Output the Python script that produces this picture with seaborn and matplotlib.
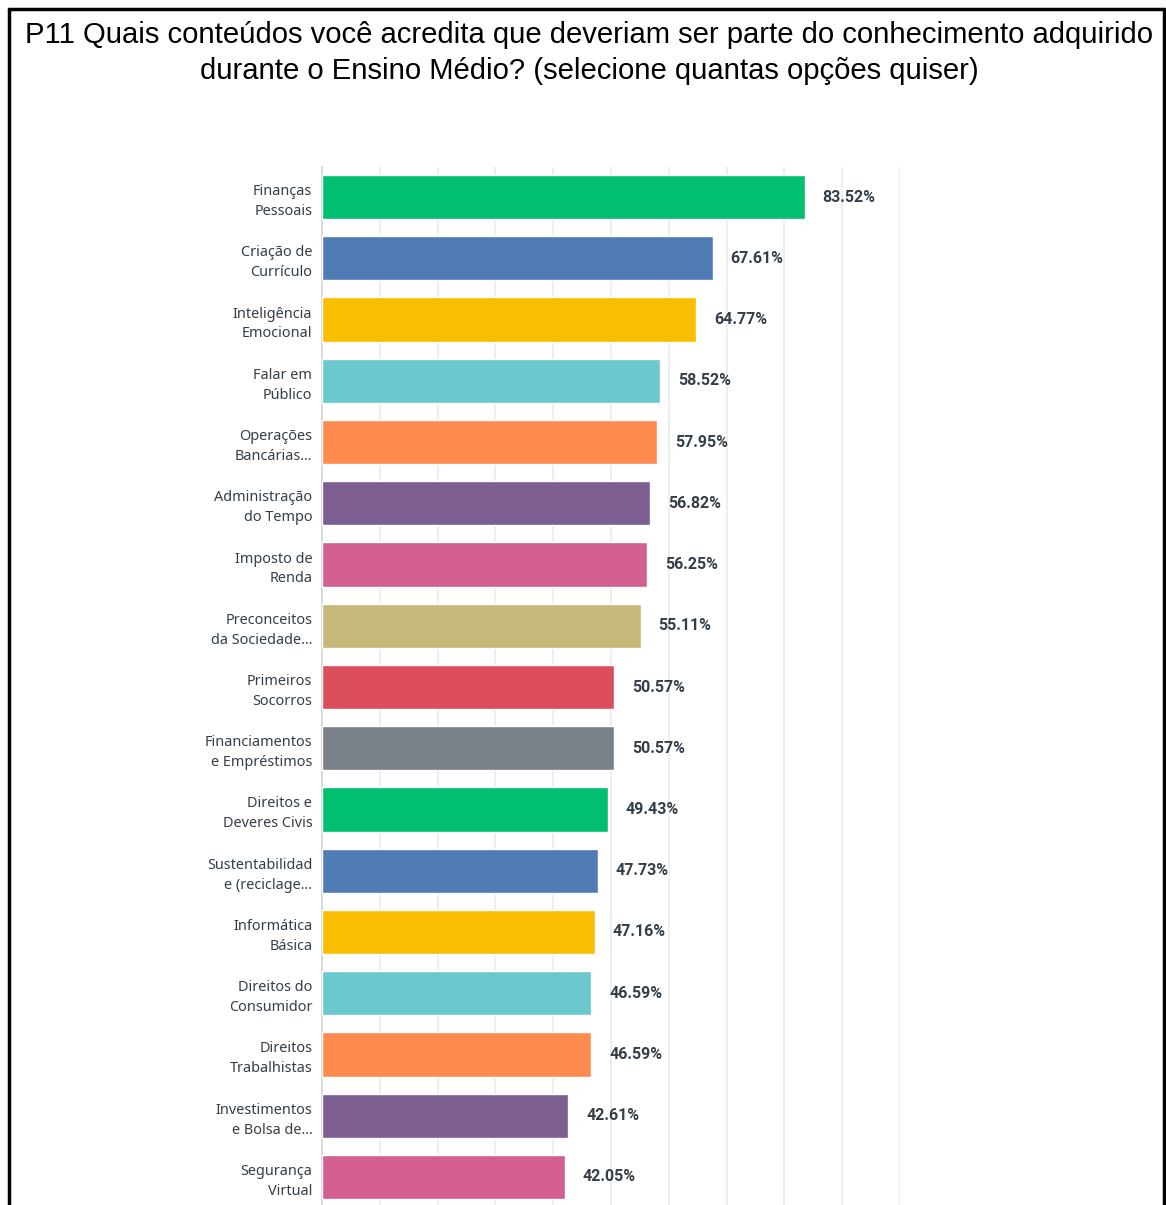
import matplotlib
matplotlib.use("Agg")
import matplotlib.pyplot as plt
from matplotlib.lines import Line2D
import seaborn as sns
import pandas as pd

categories = [
    "Finanças\nPessoais", "Criação de\nCurrículo", "Inteligência\nEmocional",
    "Falar em\nPúblico", "Operações\nBancárias...", "Administração\ndo Tempo",
    "Imposto de\nRenda", "Preconceitos\nda Sociedade...", "Primeiros\nSocorros",
    "Financiamentos\ne Empréstimos", "Direitos e\nDeveres Civis",
    "Sustentabilidad\ne (reciclage...", "Informática\nBásica",
    "Direitos do\nConsumidor", "Direitos\nTrabalhistas",
    "Investimentos\ne Bolsa de...", "Segurança\nVirtual",
]
values = [83.52, 67.61, 64.77, 58.52, 57.95, 56.82, 56.25, 55.11, 50.57,
          50.57, 49.43, 47.73, 47.16, 46.59, 46.59, 42.61, 42.05]
base_colors = ["#00BF6F", "#507CB6", "#F9BE00", "#6BC8CD", "#FF8B4F",
               "#7D5E90", "#D25F90", "#C7B879", "#DC4E5C", "#7A8189"]
title = ("P11 Quais conteúdos você acredita que deveriam ser parte do conhecimento adquirido\n"
         "durante o Ensino Médio? (selecione quantas opções quiser)")

palette = [base_colors[i % len(base_colors)] for i in range(len(categories))]
df = pd.DataFrame({"cat": categories, "val": values})

sns.set_theme(style="white")
plt.rcParams["font.family"] = ["Liberation Sans", "DejaVu Sans"]

W, H = 1166, 1205
fig = plt.figure(figsize=(W / 100, H / 100), dpi=100)
fig.patch.set_facecolor("white")

ax_left, ax_right, ax_top, ax_bot = 322, 900, 167, 1207
ax = fig.add_axes([ax_left / W, (H - ax_bot) / H, (ax_right - ax_left) / W,
                   (ax_bot - ax_top) / H])

sns.barplot(data=df, x="val", y="cat", hue="cat", palette=palette,
            legend=False, orient="h", width=0.72, ax=ax, saturation=1,
            zorder=3)

ax.set_xlim(0, 100)
ax.set_ylim(len(categories) - 0.51, -0.49)
ax.set_xticks(range(0, 101, 10))
ax.xaxis.grid(True, color="#ebebeb", linewidth=1.2, zorder=0)
ax.tick_params(axis="x", bottom=False, labelbottom=False)
ax.tick_params(axis="y", left=False, length=0, pad=7)
ax.set_xlabel("")
ax.set_ylabel("")
for s in ["top", "right", "bottom"]:
    ax.spines[s].set_visible(False)
ax.spines["left"].set_color("#d5d5d5")
ax.spines["left"].set_linewidth(1.2)

for lab in ax.get_yticklabels():
    lab.set_fontfamily(["Noto Sans", "DejaVu Sans"])
    lab.set_fontsize(10.4)
    lab.set_color("#333e48")
    lab.set_linespacing(1.45)

for i, v in enumerate(values):
    ax.text(v + 3.1, i, f"{v:.2f}%", va="center", ha="left",
            fontsize=11.5, color="#333e48", fontweight="semibold",
            family=["Roboto", "DejaVu Sans"])

fig.text(589 / W, 1 - 53 / H, title, ha="center", va="center",
         fontsize=21.1, color="black", linespacing=1.36,
         family=["Liberation Sans", "DejaVu Sans"])

# frame
lw = 2.5
fig.add_artist(Line2D([9 / W, 1164 / W], [1 - 9 / H, 1 - 9 / H],
                      transform=fig.transFigure, color="black", linewidth=lw))
fig.add_artist(Line2D([9 / W, 9 / W], [0, 1 - 9 / H],
                      transform=fig.transFigure, color="black", linewidth=lw))
fig.add_artist(Line2D([1164 / W, 1164 / W], [0, 1 - 9 / H],
                      transform=fig.transFigure, color="black", linewidth=lw))

fig.savefig("out.png", dpi=100)
